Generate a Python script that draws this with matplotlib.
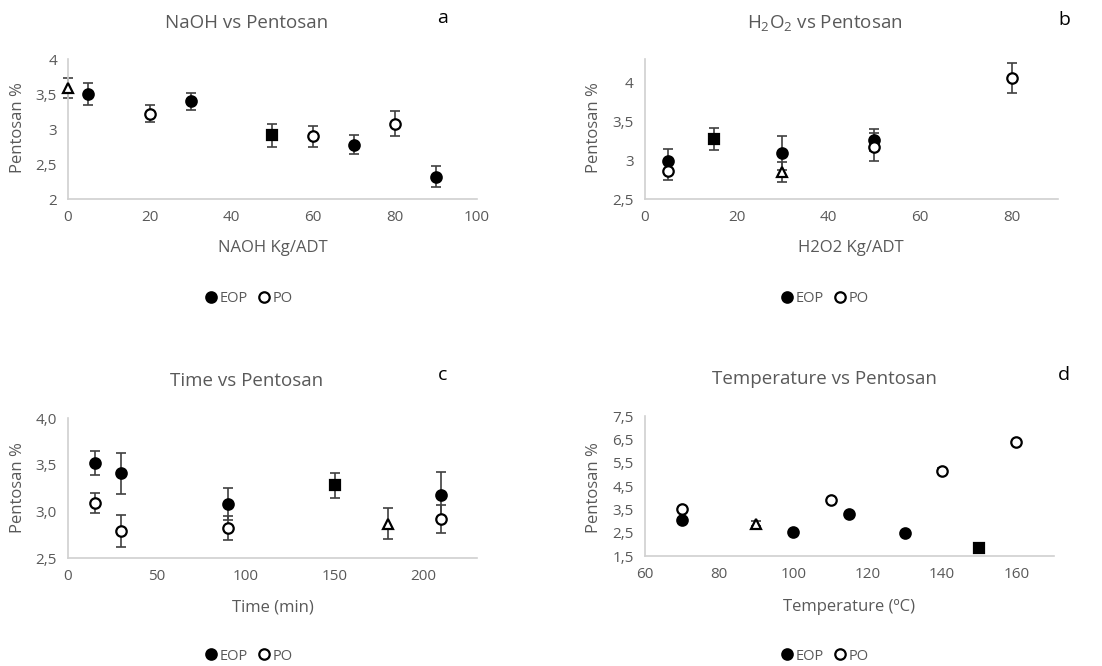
import matplotlib
matplotlib.use("Agg")
import matplotlib.pyplot as plt
from matplotlib.ticker import FuncFormatter
from matplotlib.lines import Line2D

plt.rcParams['font.family'] = ['Open Sans', 'DejaVu Sans']
plt.rcParams['mathtext.default'] = 'regular'

GRIS = '#595959'
EJE = '#d0d0d0'
BARRA = '#404040'

# ---- datos panel a: NaOH vs Pentosan
a_eop_x = [5, 30, 70, 90]
a_eop_y = [3.50, 3.40, 2.78, 2.32]
a_eop_e = [0.16, 0.12, 0.14, 0.15]
a_po_x = [20, 60, 80]
a_po_y = [3.22, 2.90, 3.08]
a_po_e = [0.12, 0.15, 0.18]
a_sq_x = [50]
a_sq_y = [2.91]
a_sq_e = [0.17]
a_tr_x = [0]
a_tr_y = [3.59]
a_tr_e = [0.14]

# ---- datos panel b: H2O2 vs Pentosan
b_eop_x = [5, 30, 50]
b_eop_y = [2.99, 3.09, 3.26]
b_eop_e = [0.15, 0.22, 0.14]
b_po_x = [5, 50, 80]
b_po_y = [2.86, 3.17, 4.06]
b_po_e = [0.11, 0.18, 0.19]
b_sq_x = [15]
b_sq_y = [3.27]
b_sq_e = [0.14]
b_tr_x = [30]
b_tr_y = [2.85]
b_tr_e = [0.13]

# ---- datos panel c: Time vs Pentosan
c_eop_x = [15, 30, 90, 210]
c_eop_y = [3.52, 3.41, 3.08, 3.18]
c_eop_e = [0.13, 0.22, 0.17, 0.24]
c_po_x = [15, 30, 90, 210]
c_po_y = [3.09, 2.79, 2.82, 2.92]
c_po_e = [0.11, 0.17, 0.13, 0.15]
c_sq_x = [150]
c_sq_y = [3.28]
c_sq_e = [0.13]
c_tr_x = [180]
c_tr_y = [2.87]
c_tr_e = [0.17]

# ---- datos panel d: Temperature vs Pentosan
d_eop_x = [70, 100, 115, 130]
d_eop_y = [3.04, 2.54, 3.29, 2.47]
d_eop_e = [0.10, 0.04, 0.04, 0.04]
d_po_x = [70, 110, 140, 160]
d_po_y = [3.53, 3.91, 5.16, 6.40]
d_po_e = [0.06, 0.04, 0.10, 0.04]
d_sq_x = [150]
d_sq_y = [1.83]
d_sq_e = [0.04]
d_tr_x = [90]
d_tr_y = [2.89]
d_tr_e = [0.10]


def coma(v, pos, dec):
    return (f"{v:.{dec}f}").replace('.', ',') if dec else (f"{v:g}").replace('.', ',')


def panel(ax, series, xlim, ylim, xticks, yticks, dec):
    for x, y, e, marker, face in series:
        eb = ax.errorbar(x, y, yerr=e, fmt='none', ecolor=BARRA, elinewidth=1.2,
                         capsize=3.5, capthick=1.2, zorder=2)
        for art in eb.lines[1] + eb.lines[2]:
            art.set_clip_on(False)
        ax.plot(x, y, linestyle='none', marker=marker, markersize=7.5,
                markerfacecolor=face, markeredgecolor='black',
                markeredgewidth=1.6, zorder=3, clip_on=False)
    ax.set_xlim(xlim)
    ax.set_ylim(ylim)
    ax.set_xticks(xticks)
    ax.set_yticks(yticks)
    ax.yaxis.set_major_formatter(FuncFormatter(lambda v, p: coma(v, p, dec)))
    for s in ['top', 'right']:
        ax.spines[s].set_visible(False)
    for s in ['left', 'bottom']:
        ax.spines[s].set_color(EJE)
        ax.spines[s].set_linewidth(1.2)
    ax.tick_params(length=0, colors=GRIS, labelsize=11, pad=8)
    ax.patch.set_alpha(0)


fig = plt.figure(figsize=(11.02, 6.66), dpi=100)

ax_a = fig.add_axes([0.0617, 0.701, 0.371, 0.210])
panel(ax_a, [(a_eop_x, a_eop_y, a_eop_e, 'o', 'black'),
             (a_po_x, a_po_y, a_po_e, 'o', 'white'),
             (a_sq_x, a_sq_y, a_sq_e, 's', 'black'),
             (a_tr_x, a_tr_y, a_tr_e, '^', 'white')],
      (0, 100), (2, 4), range(0, 101, 20), [2, 2.5, 3, 3.5, 4], 0)

ax_b = fig.add_axes([0.585, 0.701, 0.375, 0.210])
panel(ax_b, [(b_eop_x, b_eop_y, b_eop_e, 'o', 'black'),
             (b_po_x, b_po_y, b_po_e, 'o', 'white'),
             (b_sq_x, b_sq_y, b_sq_e, 's', 'black'),
             (b_tr_x, b_tr_y, b_tr_e, '^', 'white')],
      (0, 90), (2.5, 4.3), range(0, 81, 20), [2.5, 3, 3.5, 4], 0)

ax_c = fig.add_axes([0.0617, 0.162, 0.371, 0.210])
panel(ax_c, [(c_eop_x, c_eop_y, c_eop_e, 'o', 'black'),
             (c_po_x, c_po_y, c_po_e, 'o', 'white'),
             (c_sq_x, c_sq_y, c_sq_e, 's', 'black'),
             (c_tr_x, c_tr_y, c_tr_e, '^', 'white')],
      (0, 230), (2.5, 4.0), range(0, 201, 50), [2.5, 3.0, 3.5, 4.0], 1)

ax_d = fig.add_axes([0.585, 0.165, 0.371, 0.210])
panel(ax_d, [(d_eop_x, d_eop_y, d_eop_e, 'o', 'black'),
             (d_po_x, d_po_y, d_po_e, 'o', 'white'),
             (d_sq_x, d_sq_y, d_sq_e, 's', 'black'),
             (d_tr_x, d_tr_y, d_tr_e, '^', 'white')],
      (60, 170), (1.5, 7.5), range(60, 161, 20), [1.5, 2.5, 3.5, 4.5, 5.5, 6.5, 7.5], 1)

# titulos y letras
W, H = 1102, 666
def ft(x, y, s, **kw):
    fig.text(x / W, 1 - y / H, s, ha='center', va='center', **kw)

ft(247, 23, 'NaOH vs Pentosan', fontsize=13.5, color=GRIS)
ft(825, 23, 'H$_2$O$_2$ vs Pentosan', fontsize=13.5, color=GRIS)
ft(247, 381, 'Time vs Pentosan', fontsize=13.5, color=GRIS)
ft(824, 379, 'Temperature vs Pentosan', fontsize=13.5, color=GRIS)
ft(443, 18, 'a', fontsize=14, color='black')
ft(1064, 20, 'b', fontsize=14, color='black')
ft(443, 375, 'c', fontsize=14, color='black')
ft(1064, 375, 'd', fontsize=14, color='black')

# etiquetas de ejes
ft(273, 248, 'NAOH Kg/ADT', fontsize=12, color=GRIS)
ft(851, 248, 'H2O2 Kg/ADT', fontsize=12, color=GRIS)
ft(273, 607, 'Time (min)', fontsize=12, color=GRIS)
ft(849, 607, 'Temperature (ºC)', fontsize=12, color=GRIS)
ft(18, 128, 'Pentosan %', fontsize=12, color=GRIS, rotation=90)
ft(594, 128, 'Pentosan %', fontsize=12, color=GRIS, rotation=90)
ft(18, 488, 'Pentosan %', fontsize=12, color=GRIS, rotation=90)
ft(594, 488, 'Pentosan %', fontsize=12, color=GRIS, rotation=90)

# leyendas
handles = [Line2D([], [], linestyle='none', marker='o', markersize=7.5,
                  markerfacecolor='black', markeredgecolor='black', markeredgewidth=1.6),
           Line2D([], [], linestyle='none', marker='o', markersize=7.5,
                  markerfacecolor='white', markeredgecolor='black', markeredgewidth=1.6)]
for cx, cy in [(248, 299), (824, 299), (248, 656), (824, 656)]:
    fig.legend(handles, ['EOP', 'PO'], loc='center', bbox_to_anchor=(cx / W, 1 - cy / H),
               ncol=2, frameon=False, fontsize=10.5, handletextpad=0.1,
               columnspacing=0.6, handlelength=1.0, labelcolor=GRIS)

fig.savefig('out.png', dpi=100)
